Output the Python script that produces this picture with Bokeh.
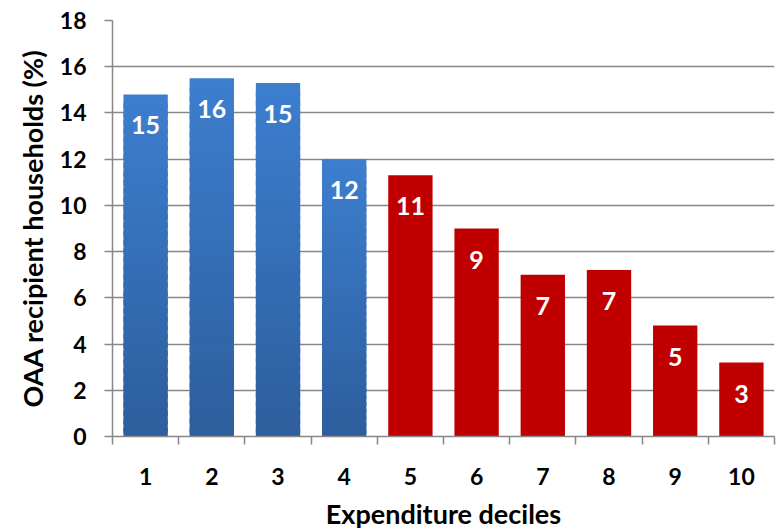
import numpy as np
from bokeh.plotting import figure
from bokeh.models import FixedTicker, Range1d, ColumnDataSource, Title
from bokeh.core.properties import value
from bokeh.embed import file_html
from bokeh.resources import INLINE

# Share of households receiving OAA, by expenditure decile
deciles = [1, 2, 3, 4, 5, 6, 7, 8, 9, 10]
shares = [14.8, 15.5, 15.3, 12.0, 11.3, 9.0, 7.0, 7.2, 4.8, 3.2]
is_poorest = [True, True, True, True, False, False, False, False, False, False]
y_ticks = [0, 2, 4, 6, 8, 10, 12, 14, 16, 18]
x_title = "Expenditure deciles"
y_title = "OAA recipient households (%)"

FONT = "Lato"
GRID = "#878787"
RED = "#C00000"
BLUE_TOP = np.array([60, 126, 206])
BLUE_BOTTOM = np.array([45, 93, 156])
BAR_W = 0.67
N_SLICES = 40

p = figure(width=776, height=532, x_range=Range1d(0.5, 10.5), y_range=Range1d(0, 18),
           output_backend="svg", toolbar_location=None,
           min_border_left=112, min_border_right=2, min_border_top=20, min_border_bottom=96)
p.outline_line_color = None
p.background_fill_color = "white"
p.border_fill_color = "white"

# gridlines
p.xgrid.grid_line_color = None
p.ygrid.grid_line_color = GRID
p.ygrid.grid_line_width = 1.5
p.yaxis.ticker = FixedTicker(ticks=y_ticks)

# bars: blue ones carry a vertical gradient, drawn as thin stacked slices
# (each slice reaches a little below its neighbour so no seams show)
xs, bottoms, tops, colors = [], [], [], []
for d, v, poor in zip(deciles, shares, is_poorest):
    if poor:
        step = v / N_SLICES
        for j in range(N_SLICES):
            t = (j + 0.5) / N_SLICES
            c = BLUE_BOTTOM + (BLUE_TOP - BLUE_BOTTOM) * t
            xs.append(d)
            bottoms.append(max(0.0, step * j - step * 0.6))
            tops.append(step * (j + 1))
            colors.append("#%02x%02x%02x" % tuple(int(round(k)) for k in c))
    else:
        xs.append(d)
        bottoms.append(0)
        tops.append(v)
        colors.append(RED)

bars = ColumnDataSource(dict(x=xs, bottom=bottoms, top=tops, color=colors))
p.vbar(x="x", bottom="bottom", top="top", width=BAR_W, source=bars,
       fill_color="color", line_color=None)

# value labels inside the bars
labels = ColumnDataSource(dict(x=deciles, y=shares, text=[f"{v:.0f}" for v in shares]))
p.text(x="x", y="y", text="text", source=labels, text_color="white",
       text_font=value(FONT), text_font_style="bold", text_font_size="25px",
       text_align="center", text_baseline="middle", y_offset=31)

# x axis: labels at the centres, ticks between categories
p.xaxis.ticker = FixedTicker(ticks=deciles, minor_ticks=[d + 0.5 for d in range(0, 11)])
p.xaxis.axis_label = x_title
p.xaxis.major_tick_out = 0
p.xaxis.major_tick_in = 0
p.xaxis.minor_tick_out = 8
p.xaxis.minor_tick_in = 0
p.xaxis.minor_tick_line_color = GRID
p.xaxis.minor_tick_line_width = 1.5
p.xaxis.major_label_standoff = 23
p.xaxis.axis_label_standoff = 9
p.xaxis.axis_label_text_font_size = "27px"

# y axis (its title sits in a side panel, nudged a little above centre)
p.yaxis.major_tick_out = 8
p.yaxis.major_tick_in = 0
p.yaxis.minor_tick_out = 0
p.yaxis.minor_tick_in = 0
p.yaxis.major_label_standoff = 18

for ax in (p.xaxis, p.yaxis):
    ax.axis_line_color = GRID
    ax.axis_line_width = 1.5
    ax.major_tick_line_color = GRID
    ax.major_tick_line_width = 1.5
    ax.major_label_text_font = FONT
    ax.major_label_text_font_style = "bold"
    ax.major_label_text_font_size = "23px"
    ax.major_label_text_color = "black"
    ax.axis_label_text_font = FONT
    ax.axis_label_text_font_style = "bold"
    ax.axis_label_text_color = "black"

p.add_layout(Title(text=y_title, align="center", offset=26, standoff=16,
                   text_font=FONT, text_font_style="bold", text_font_size="27px",
                   text_color="black"), "left")

open("out.html", "w").write(file_html(p, INLINE))
